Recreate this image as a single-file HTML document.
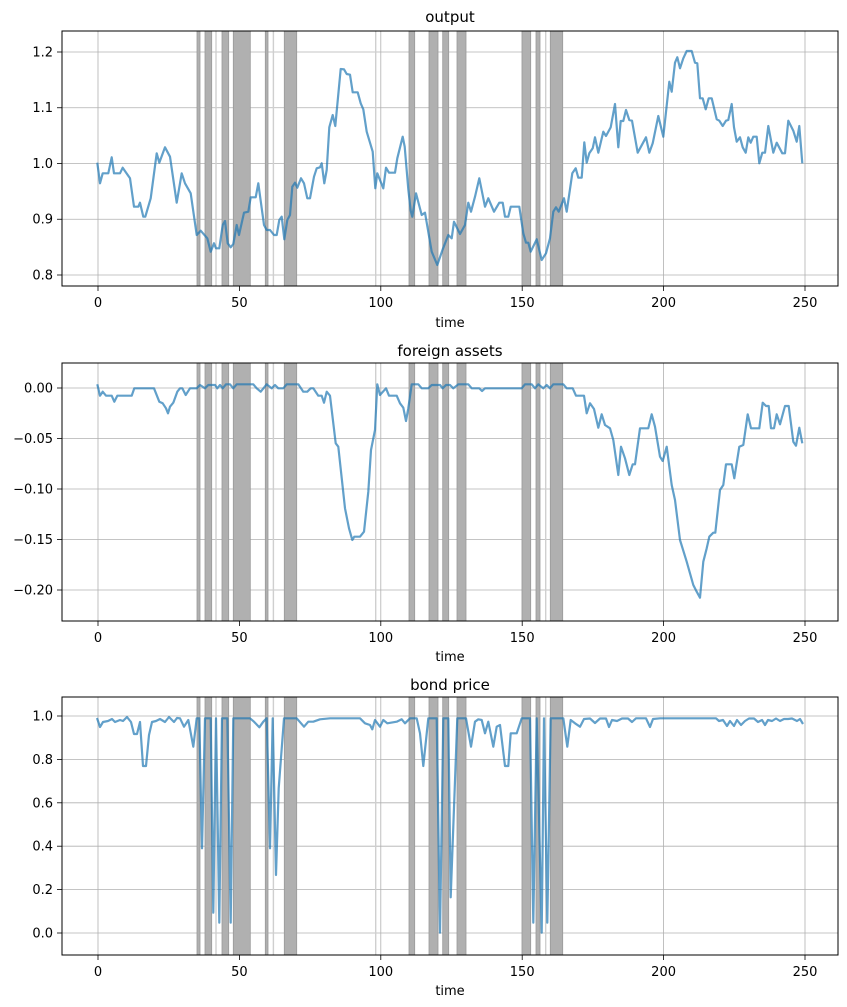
<!DOCTYPE html>
<html><head><meta charset="utf-8"><style>
html,body{margin:0;padding:0;background:#fff;}
svg{display:block;font-family:"DejaVu Sans","Liberation Sans",sans-serif;}
</style></head><body>
<svg width="847" height="1007" viewBox="0 0 847 1007" xmlns="http://www.w3.org/2000/svg">
<defs>
<g id="bands">
<g fill="#b0b0b0" stroke="#9a9a9a" stroke-width="0.8">
<rect x="197" y="0" width="3" height="1000"/>
<rect x="205" y="0" width="6.7" height="1000"/>
<rect x="222" y="0" width="6.7" height="1000"/>
<rect x="233.3" y="0" width="17" height="1000"/>
<rect x="265.3" y="0" width="2.7" height="1000"/>
<rect x="284.3" y="0" width="12.4" height="1000"/>
<rect x="409" y="0" width="5.7" height="1000"/>
<rect x="429" y="0" width="9" height="1000"/>
<rect x="442.7" y="0" width="6" height="1000"/>
<rect x="457" y="0" width="9" height="1000"/>
<rect x="522" y="0" width="8.7" height="1000"/>
<rect x="536" y="0" width="4" height="1000"/>
<rect x="550.3" y="0" width="12.4" height="1000"/>
</g>
<g fill="#cfcfcf">
<rect x="215.3" y="0" width="1.4" height="1000"/>
<rect x="272.7" y="0" width="1.4" height="1000"/>
<rect x="375" y="0" width="1.4" height="1000"/>
<rect x="545" y="0" width="1.4" height="1000"/>
</g>
</g>
<g id="xgrid" stroke="#b0b0b0" stroke-width="0.8">
<line x1="98" y1="0" x2="98" y2="1000"/><line x1="239.4" y1="0" x2="239.4" y2="1000"/><line x1="380.8" y1="0" x2="380.8" y2="1000"/><line x1="522.2" y1="0" x2="522.2" y2="1000"/><line x1="663.6" y1="0" x2="663.6" y2="1000"/><line x1="805" y1="0" x2="805" y2="1000"/>
</g>
<clipPath id="c1"><rect x="62" y="31" width="776" height="255"/></clipPath>
<clipPath id="c2"><rect x="62" y="363" width="776" height="258"/></clipPath>
<clipPath id="c3"><rect x="62" y="697" width="776" height="258"/></clipPath>
</defs>

<!-- Panel 1 -->
<g clip-path="url(#c1)">
<use href="#xgrid"/>
<g stroke="#b0b0b0" stroke-width="0.8"><line x1="62" y1="275" x2="838" y2="275"/><line x1="62" y1="219.25" x2="838" y2="219.25"/><line x1="62" y1="163.5" x2="838" y2="163.5"/><line x1="62" y1="107.75" x2="838" y2="107.75"/><line x1="62" y1="52" x2="838" y2="52"/></g>
<use href="#bands"/>
<polyline fill="none" stroke="#1f77b4" stroke-opacity="0.7" stroke-width="2.2" stroke-linejoin="round" points="97.3,162.7 100,183.3 102.7,173.3 108.3,173.3 111.7,157.3 114,173.3 120,173.3 122.7,167.7 130,178.3 134,206.7 138.3,206.7 140,202.7 143.3,216.7 145.3,216.7 150.7,198.3 156.7,153.3 159.3,162.7 165,147.3 170,156.7 176.7,202.7 181.7,173.3 185,183.3 190.7,193.3 196.7,235 200.7,230.7 207.3,238.3 210.7,251.7 214,243.3 216,248.3 219.3,248.3 222.7,225 225,221 227.7,243.3 230.7,247.3 233.3,244 236.7,225 239,235 244,212.7 248.3,211.7 250.7,197.3 255.7,197.3 258.3,183.3 264,225 266.7,230 270,230 274,235 276.7,235 279.3,220 281.7,216.7 284.3,239.3 287.3,220 290,215 292.3,186.7 295,182.7 297.3,187.7 301,178.3 304,183.3 307.3,198.3 310,198.3 314,176.7 316.7,168.3 320,167.3 321.7,163.3 324.3,183.3 326.7,170 329.3,127.3 332.7,115 335.3,126 340.7,69 344,69.3 346.7,74 350,74.7 352.7,92.3 357.7,92.3 360.7,103.3 363.3,109.3 366.7,131.7 372.7,151.7 375.3,188.3 377.3,173.3 383.3,188.3 386,167.7 389,172.7 395,172.7 397.3,158.3 402.7,136.7 404.7,146.7 408.3,189.3 410.7,210.7 412.3,216.7 416,193.3 421.7,215 425,212.7 431.7,251.7 437.3,265 442.7,249.3 448.3,235 451.7,238.3 454,221.7 460,234 465,225 468.3,202.7 471,211.7 475,196.7 479.3,178.3 485,206.7 488.3,198.3 494,211.7 499.3,202.7 502.7,202.7 505,216.7 508.3,216.7 510.7,206.7 519.3,206.7 523.3,233.3 526,242.7 528.3,242.7 530.7,251.7 536.7,239.3 541.7,260 546,253.3 550,238.3 553.3,211.7 556,207.3 558.7,211.7 564,198.3 566.7,211.7 572.3,173.3 575.7,168.3 578.3,177.7 581.7,177.7 584.3,142.3 586.7,162.7 589.3,153.3 592.7,148.3 595,137.3 598.3,152.7 603.3,131.7 606,136 610.7,127.3 615,104 618.3,147.3 620.7,121 623.3,121 626,110 629.3,120 632,120.7 637.7,152.7 646,137.3 649.3,152.7 652.7,143.3 658.3,116 663.3,136.7 669.3,81.7 671.7,91.7 675,62.7 677.3,57.3 680,68.3 683.3,58.3 686.7,51 691.7,51 695,62.7 697.3,63.3 700,98.3 702.7,98.3 705.7,109.3 708.7,98.3 711.7,98.3 716.7,119.3 719.3,120.7 722.7,126 726,120.7 728.3,120 731.7,104 734,127.3 736.7,141.7 740,137.3 742.7,147.3 745.7,152.7 748.3,137.3 750.7,142.7 753.3,136.7 756.7,136.7 759.3,163.3 762.3,152.7 765,152.7 768.3,126 773.3,152.7 776.7,142.7 782.3,153.3 785,153.3 788.3,120.7 793.3,130.7 796.7,141.7 799.3,126 802.3,163.3"/>
</g>
<rect x="62" y="31" width="776" height="255" fill="none" stroke="#000" stroke-width="1"/>
<g stroke="#000" stroke-width="0.8"><line x1="98" y1="286" x2="98" y2="291"/><line x1="239.4" y1="286" x2="239.4" y2="291"/><line x1="380.8" y1="286" x2="380.8" y2="291"/><line x1="522.2" y1="286" x2="522.2" y2="291"/><line x1="663.6" y1="286" x2="663.6" y2="291"/><line x1="805" y1="286" x2="805" y2="291"/>
<line x1="57" y1="275" x2="62" y2="275"/><line x1="57" y1="219.25" x2="62" y2="219.25"/><line x1="57" y1="163.5" x2="62" y2="163.5"/><line x1="57" y1="107.75" x2="62" y2="107.75"/><line x1="57" y1="52" x2="62" y2="52"/></g>
<g font-size="13" fill="#000">
<g text-anchor="middle"><text x="98" y="307">0</text><text x="239.4" y="307">50</text><text x="380.8" y="307">100</text><text x="522.2" y="307">150</text><text x="663.6" y="307">200</text><text x="805" y="307">250</text></g>
<g text-anchor="end"><text x="53" y="279.5">0.8</text><text x="53" y="223.7">0.9</text><text x="53" y="168">1.0</text><text x="53" y="112.2">1.1</text><text x="53" y="56.5">1.2</text></g>
<text x="450" y="327" text-anchor="middle">time</text>
<text x="450" y="22" text-anchor="middle" font-size="15">output</text>
</g>

<!-- Panel 2 -->
<g clip-path="url(#c2)">
<use href="#xgrid"/>
<g stroke="#b0b0b0" stroke-width="0.8"><line x1="62" y1="388" x2="838" y2="388"/><line x1="62" y1="438.5" x2="838" y2="438.5"/><line x1="62" y1="489" x2="838" y2="489"/><line x1="62" y1="539.5" x2="838" y2="539.5"/><line x1="62" y1="590" x2="838" y2="590"/></g>
<use href="#bands"/>
<polyline fill="none" stroke="#1f77b4" stroke-opacity="0.7" stroke-width="2.2" stroke-linejoin="round" points="97.3,384.3 100,395.7 102.7,391.7 106,395.7 111.7,395.7 114.3,401.7 117.3,395.7 131.7,395.7 134.3,388.3 154,388.3 159.3,401.7 162.7,403.3 166,408.3 168,413.3 170,406.7 173.3,402.7 177.3,391.7 180,388.3 182.3,388.3 185.7,395 190,388.3 196.7,388.3 200,385 205,388.3 208.3,385 215,385 217.3,388.3 220,385 222.7,388.3 226,384.3 230,384.3 233.3,388.3 236.7,384.3 253.3,384.3 256.7,388.3 260.7,391.7 266.7,384.3 271.7,388.3 275,385 278.3,388.3 283.3,388.3 286.7,384.3 298.3,384.3 303.3,391.7 307.3,391.7 310.7,388.3 313.3,388.3 318.3,395.7 321.7,395.7 324,402.7 326.7,391.7 330,395.7 335.7,443.3 338.3,446.7 345,508.3 349,528.3 352.3,540 354.3,536.7 360,536.7 364,531.7 368.3,491.7 371,450 375,430 377.3,384.3 380,395 386,388.3 389,395.7 396.7,395.7 400,403.3 403.3,407.7 406,421 408.3,408.3 411.7,384.3 418.3,384.3 421.7,388.3 428.3,388.3 431.7,385 440,385 442.7,388.3 446,385 450,385 453.3,388.3 458.3,384.3 468.3,384.3 471.7,388.3 479.3,388.3 482,391 485,388.3 521.7,388.3 525,384.3 531.7,384.3 535,388.3 538.3,384.3 543.3,388.3 546.7,385 550,388.3 553.3,384.3 563.3,384.3 566.7,388.3 572.7,388.3 576,395.7 584,395.7 586.7,413.3 590,403.3 594,409 598.3,427.7 601.7,414.3 605,425 610,428.3 613.3,440 618.3,475 621,446.7 625,458.3 629.3,475 632.7,464.3 635,464.3 640,428.3 648.3,428.3 651.7,414.3 655,426.7 660,456.7 662.7,461 666.7,446.7 671.7,485 675,500 680,540 686.7,561.7 693.3,585 696.7,591.7 700,597.7 703.3,561.7 706.7,548.3 709.3,536.7 713.3,532.7 715.3,532.7 720,490 723.3,485 726,464.3 731.7,464.3 734.3,478.3 739.3,446.7 743.3,445 747.7,414.3 751,428.3 759.3,428.3 762.7,402.7 766,406 768.7,406 771,428.3 774,428.3 776.7,414.3 780,424.3 785,406 788.7,406 793.3,441.7 796,445.7 799.3,427.7 802.3,443.3"/>
</g>
<rect x="62" y="363" width="776" height="258" fill="none" stroke="#000" stroke-width="1"/>
<g stroke="#000" stroke-width="0.8"><line x1="98" y1="621" x2="98" y2="626"/><line x1="239.4" y1="621" x2="239.4" y2="626"/><line x1="380.8" y1="621" x2="380.8" y2="626"/><line x1="522.2" y1="621" x2="522.2" y2="626"/><line x1="663.6" y1="621" x2="663.6" y2="626"/><line x1="805" y1="621" x2="805" y2="626"/>
<line x1="57" y1="388" x2="62" y2="388"/><line x1="57" y1="438.5" x2="62" y2="438.5"/><line x1="57" y1="489" x2="62" y2="489"/><line x1="57" y1="539.5" x2="62" y2="539.5"/><line x1="57" y1="590" x2="62" y2="590"/></g>
<g font-size="13" fill="#000">
<g text-anchor="middle"><text x="98" y="642">0</text><text x="239.4" y="642">50</text><text x="380.8" y="642">100</text><text x="522.2" y="642">150</text><text x="663.6" y="642">200</text><text x="805" y="642">250</text></g>
<g text-anchor="end"><text x="53" y="392.5">0.00</text><text x="53" y="443">−0.05</text><text x="53" y="493.5">−0.10</text><text x="53" y="544">−0.15</text><text x="53" y="594.5">−0.20</text></g>
<text x="450" y="661" text-anchor="middle">time</text>
<text x="450" y="356" text-anchor="middle" font-size="15">foreign assets</text>
</g>

<!-- Panel 3 -->
<g clip-path="url(#c3)">
<use href="#xgrid"/>
<g stroke="#b0b0b0" stroke-width="0.8"><line x1="62" y1="933" x2="838" y2="933"/><line x1="62" y1="889.6" x2="838" y2="889.6"/><line x1="62" y1="846.2" x2="838" y2="846.2"/><line x1="62" y1="802.8" x2="838" y2="802.8"/><line x1="62" y1="759.4" x2="838" y2="759.4"/><line x1="62" y1="716" x2="838" y2="716"/></g>
<use href="#bands"/>
<polyline fill="none" stroke="#1f77b4" stroke-opacity="0.7" stroke-width="2.2" stroke-linejoin="round" points="97,718 100,727 103,722 108,721 112,719 115,722 120,720 123,721 127,717 131,722 134,734 137,734 140,722 143,766 146,766 149,735 152,722 156,721 160,719 165,722 169,717 174,722 177,718 180,718.3 184,726.7 188.3,720 193.3,746.7 196.7,718.3 199.3,718.3 202,848.3 205,718.3 210.7,718.3 213.3,912.7 216,718.3 219.3,922.7 222,718.3 227.3,718.3 230.7,922.7 233.3,718.3 250,718.3 254,721.7 259.3,727.3 263.3,721.7 266.7,718.3 270,848.3 272.7,718.3 276,875 278.7,788.3 284,718.3 296.7,718.3 304,726.7 308.3,721.7 313.3,721.7 320,719.3 330,718.3 360,718.3 365,723.3 370,725 372.3,729.3 375,720 380,726.7 383.3,720 387.3,723.3 396.7,721.7 401.7,719.3 405,723.3 410,718.3 416.7,718.3 420,733.3 423.3,766 428.3,718.3 436.7,718.3 440,932.7 443.3,718.3 448.3,718.3 450.7,897.3 457.3,718.3 466,718.3 471,746.7 475,721.7 478.3,719.3 481.7,720 485,733.3 488.3,721.7 493.3,746.7 496.7,726.7 500,725 505,766 508.3,766 510.7,733.3 516.7,733.3 521.7,718.3 530,718.3 533.3,922.7 536.7,718.3 541.7,932.7 544,718.3 547.3,922.7 550.7,718.3 563.3,718.3 567.3,746.7 570.7,720 575,723.3 580,726.7 584,719 590,718.5 595,723 600,718.5 606,718.5 609,727 612,720 617,721 622,718.5 628,718.5 632,722 636,718.3 646,718.3 650,727 653,719 660,718.3 700,718.3 716,718.3 719,721 723,720 727,726 730,721 734,726 737,720 741,725 745,721 749,718.5 754,718.5 758,722 762,720 765,725 768,720 772,721 776,718.5 780,721 784,719 788,719 792,718.5 797,721 800,719 803,724"/>
</g>
<rect x="62" y="697" width="776" height="258" fill="none" stroke="#000" stroke-width="1"/>
<g stroke="#000" stroke-width="0.8"><line x1="98" y1="955" x2="98" y2="960"/><line x1="239.4" y1="955" x2="239.4" y2="960"/><line x1="380.8" y1="955" x2="380.8" y2="960"/><line x1="522.2" y1="955" x2="522.2" y2="960"/><line x1="663.6" y1="955" x2="663.6" y2="960"/><line x1="805" y1="955" x2="805" y2="960"/>
<line x1="57" y1="933" x2="62" y2="933"/><line x1="57" y1="889.6" x2="62" y2="889.6"/><line x1="57" y1="846.2" x2="62" y2="846.2"/><line x1="57" y1="802.8" x2="62" y2="802.8"/><line x1="57" y1="759.4" x2="62" y2="759.4"/><line x1="57" y1="716" x2="62" y2="716"/></g>
<g font-size="13" fill="#000">
<g text-anchor="middle"><text x="98" y="976">0</text><text x="239.4" y="976">50</text><text x="380.8" y="976">100</text><text x="522.2" y="976">150</text><text x="663.6" y="976">200</text><text x="805" y="976">250</text></g>
<g text-anchor="end"><text x="53" y="937.5">0.0</text><text x="53" y="894">0.2</text><text x="53" y="850.7">0.4</text><text x="53" y="807.3">0.6</text><text x="53" y="764">0.8</text><text x="53" y="720.5">1.0</text></g>
<text x="450" y="995" text-anchor="middle">time</text>
<text x="450" y="690" text-anchor="middle" font-size="15">bond price</text>
</g>
</svg>
</body></html>
